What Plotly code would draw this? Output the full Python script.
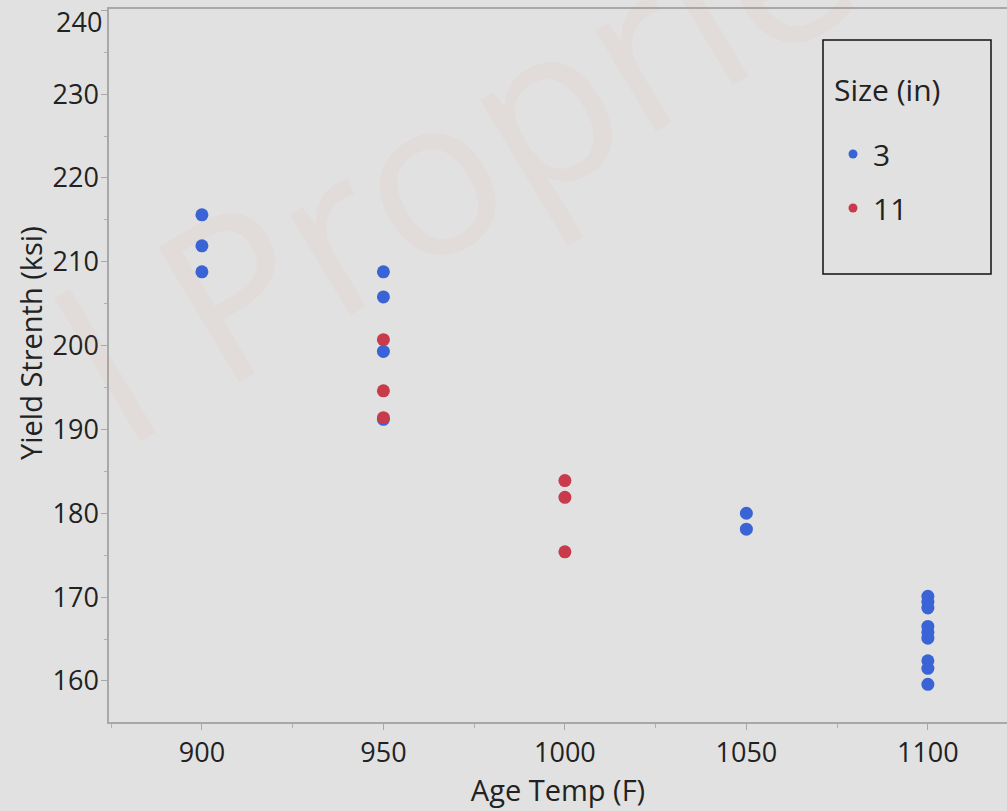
import plotly.graph_objects as go

# ---- data ----
size_labels = ["3", "11"]
legend_title = "Size (in)"
temp_3 = [900, 900, 900, 950, 950, 950, 950, 1050, 1050,
          1100, 1100, 1100, 1100, 1100, 1100, 1100, 1100, 1100]
yield_3 = [215.6, 211.9, 208.8, 208.8, 205.8, 199.3, 191.2, 180.0, 178.1,
           170.1, 169.4, 168.7, 166.5, 165.8, 165.1, 162.4, 161.5, 159.6]
temp_11 = [950, 950, 950, 1000, 1000, 1000]
yield_11 = [200.7, 194.6, 191.4, 183.9, 181.9, 175.4]
x_ticks = [900, 950, 1000, 1050, 1100]
y_ticks = [160, 170, 180, 190, 200, 210, 220, 230, 240]

BLUE = "#3a64d6"
RED = "#c93a4a"
BG = "#e1e1e1"
FONT = "Open Sans"
TXT = "#222222"

W, H = 1007, 811
L, R, T, B = 109, 0, 9, 89
PW, PH = W - L - R, H - T - B


def px(x):
    return (x - L) / PW


def py(y):
    return (H - B - y) / PH


# the top label (240) sits just inside the frame, as in the reference
y_ticktext = [str(v) for v in y_ticks[:-1]] + [""]

fig = go.Figure()

# data traces (no legend)
fig.add_trace(go.Scatter(x=temp_3, y=yield_3, mode="markers", showlegend=False,
                         marker=dict(color=BLUE, size=13), hoverinfo="x+y"))
fig.add_trace(go.Scatter(x=temp_11, y=yield_11, mode="markers", showlegend=False,
                         marker=dict(color=RED, size=13), hoverinfo="x+y"))
# legend entries (smaller symbols like the reference)
for name, col in zip(size_labels, [BLUE, RED]):
    fig.add_trace(go.Scatter(x=[None], y=[None], mode="markers", name=name,
                             legendgroup=name,
                             marker=dict(color=col, size=9)))

fig.update_layout(
    width=W, height=H,
    margin=dict(l=L, r=R, t=T, b=B, pad=0),
    paper_bgcolor=BG, plot_bgcolor=BG,
    font=dict(family=FONT, color=TXT, size=27),
    xaxis=dict(range=[874.4, 1121.8], tickvals=x_ticks, ticks="outside",
               ticklen=6, tickcolor="#a8a8a8", tickwidth=1,
               showline=True, linecolor="#a8a8a8", linewidth=1.5, mirror=True,
               showgrid=False, zeroline=False, automargin=False,
               minor=dict(dtick=25, tick0=875, ticks="outside", ticklen=4,
                          tickcolor="#b0b0b0", showgrid=False),
               tickfont=dict(size=27, family=FONT, color=TXT),
               title=dict(text="Age Temp (F)", standoff=8,
                          font=dict(size=29, family=FONT, color=TXT))),
    yaxis=dict(range=[155.1, 240.15], tickvals=y_ticks, ticktext=y_ticktext,
               ticks="outside", ticklen=6, tickcolor="#a8a8a8", tickwidth=1,
               showline=True, linecolor="#a8a8a8", linewidth=1.5,
               showgrid=False, zeroline=False, automargin=False,
               ticklabelstandoff=-3,
               minor=dict(dtick=5, ticks="outside", ticklen=3,
                          tickcolor="#b0b0b0", showgrid=False),
               tickfont=dict(size=27, family=FONT, color=TXT)),
    legend=dict(x=px(833), y=py(128), xanchor="left", yanchor="top",
                bgcolor="rgba(0,0,0,0)", borderwidth=0,
                font=dict(size=30, family=FONT, color=TXT),
                tracegroupgap=12, traceorder="grouped"),
    shapes=[dict(type="rect", xref="paper", yref="paper",
                 x0=px(823), x1=px(991), y0=py(274), y1=py(40),
                 line=dict(color="#111111", width=1.5), fillcolor="rgba(0,0,0,0)")],
    annotations=[
        dict(text=str(y_ticks[-1]), xref="paper", yref="paper",
             x=px(104), y=py(21), xanchor="right", yanchor="middle",
             showarrow=False, font=dict(size=27, family=FONT, color=TXT)),
        dict(text=legend_title, xref="paper", yref="paper",
             x=px(832), y=py(89), xanchor="left", yanchor="middle",
             showarrow=False, font=dict(size=30, family=FONT, color=TXT)),
        dict(text="Yield Strenth (ksi)", xref="paper", yref="paper",
             x=px(30), y=py(343), xanchor="center", yanchor="middle",
             textangle=-90, showarrow=False,
             font=dict(size=29, family=FONT, color=TXT)),
        dict(text="l Proprietary", xref="paper", yref="paper",
             x=px(625), y=py(50), xanchor="center", yanchor="middle",
             textangle=-31, showarrow=False,
             font=dict(size=220, family=FONT, color="rgba(230,130,120,0.06)")),
    ],
)

fig.write_html("out.html")
